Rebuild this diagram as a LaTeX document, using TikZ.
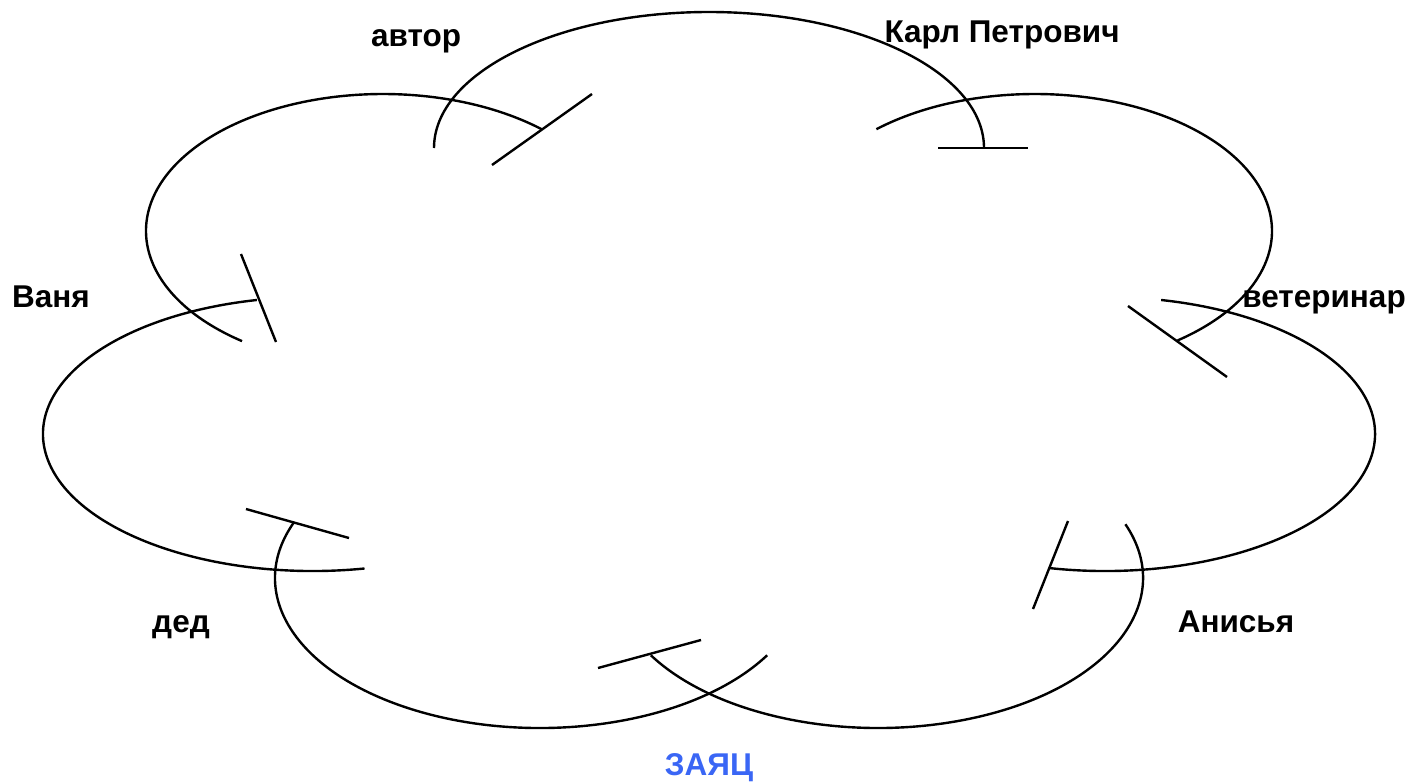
\documentclass[tikz,border=0pt]{standalone}
\usepackage{fontspec}
\setmainfont{Liberation Sans}
\definecolor{hareblue}{RGB}{58,102,245}

\begin{document}
\begin{tikzpicture}[x=1pt,y=-1pt,
  cloud/.style={draw,line width=2.4pt},
  stopbar/.style={draw,line width=2.4pt},
  who/.style={font=\fontsize{31.5}{36}\selectfont\bfseries,anchor=base,inner sep=0pt}]
\useasboundingbox (0,0) rectangle (1412,782);
% centres of the seven arcs
\coordinate (cA) at (709,148);
\coordinate (cB) at (1035,231);
\coordinate (cC) at (1105,434);
\coordinate (cD) at (878,578);
\coordinate (cE) at (540,578);
\coordinate (cF) at (313,434);
\coordinate (cG) at (383,231);
% arcs of the cloud
\draw[cloud] (cA) ++(180:275 and 136) arc[start angle=180,end angle=360,x radius=275,y radius=136];
\draw[cloud] (cB) ++(228:237 and 137) arc[start angle=228,end angle=413,x radius=237,y radius=137];
\draw[cloud] (cC) ++(282:270 and 137) arc[start angle=282,end angle=462,x radius=270,y radius=137];
\draw[cloud] (cD) ++(-21:265 and 150) arc[start angle=-21,end angle=149,x radius=265,y radius=150];
\draw[cloud] (cE) ++(31:265 and 150) arc[start angle=31,end angle=202,x radius=265,y radius=150];
\draw[cloud] (cF) ++(79:270 and 137) arc[start angle=79,end angle=258,x radius=270,y radius=137];
\draw[cloud] (cG) ++(126.5:237 and 137) arc[start angle=126.5,end angle=312,x radius=237,y radius=137];
% bars at the arc ends
\draw[stopbar] (938,148) -- (1028,148);
\draw[stopbar] (1128,306) -- (1227,377);
\draw[stopbar] (1068,521) -- (1033,609);
\draw[stopbar] (598,668) -- (701,640);
\draw[stopbar] (246,509) -- (349,538);
\draw[stopbar] (241,254) -- (276,342);
\draw[stopbar] (492,165) -- (592,94);
% labels
\node[who] (avtor) at (416,46) {автор};
\node[who] (karl) at (1002,42) {Карл Петрович};
\node[who] (vanya) at (51,307) {Ваня};
\node[who] (vet) at (1324,307) {ветеринар};
\node[who] (ded) at (181,632) {дед};
\node[who] (anisya) at (1236,632) {Анисья};
\node[who,text=hareblue] (zayac) at (709,775) {ЗАЯЦ};
\end{tikzpicture}
\end{document}
